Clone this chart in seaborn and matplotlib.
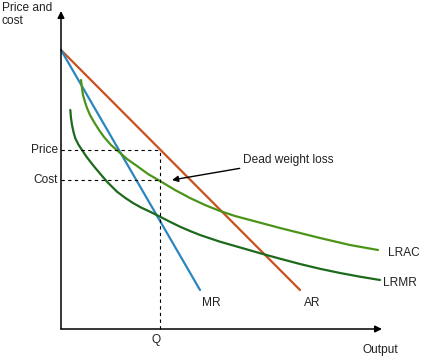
import matplotlib
matplotlib.use('Agg')
import matplotlib.pyplot as plt
import seaborn as sns
import pandas as pd

sns.set_style('white')
plt.rcParams['font.family'] = ['Liberation Sans', 'DejaVu Sans']

# 수요(AR)와 한계수입(MR) 직선
ar_q = [0, 239]
ar_p = [279, 39]
mr_q = [0, 139]
mr_p = [279, 39]

# 장기평균비용(LRAC) 곡선 - 그림에서 읽은 점
lrac_q = [20, 21, 22, 24, 26, 29, 33, 38, 43, 50, 58, 66, 76, 87, 99, 114, 129, 144,
          159, 174, 189, 204, 219, 239, 259, 289, 317]
lrac_p = [249, 241, 234, 227, 221, 214, 207, 199, 192, 184, 177, 170, 163, 155, 148, 139,
          131, 124, 118, 113, 109, 105, 101, 96, 91, 84, 79]

# 장기한계비용(LRMR) 곡선
lrmr_q = [9.3, 10, 11, 12.5, 14.3, 17.5, 21, 25, 29.3, 33.5, 37.7, 46, 56, 64, 72, 80,
          89, 99, 109, 119, 129, 139, 159, 182, 199, 219, 239, 259, 279, 299, 319]
lrmr_p = [219, 211, 204, 197, 190.7, 184.3, 179, 173, 167.3, 162, 157, 147.3, 137.3, 131.3,
          126, 121.5, 117.3, 112.3, 107.2, 102.3, 98, 94, 87.3, 80.7, 75.8, 70.3, 65,
          60.2, 56, 52.3, 49]

q_star = 99
price = 179
cost = 149

fig = plt.figure(figsize=(4.37, 3.61), dpi=100)
ax = fig.add_axes([0, 0, 1, 1])
ax.set_xlim(-61, 376)
ax.set_ylim(-32, 329)
ax.axis('off')

curves = [
    (ar_q, ar_p, '#c9501f'),
    (mr_q, mr_p, '#2b86bf'),
    (lrac_q, lrac_p, '#4c9419'),
    (lrmr_q, lrmr_p, '#1d6a1d'),
]
for qs, ps, col in curves:
    d = pd.DataFrame({'q': qs, 'p': ps})
    sns.lineplot(data=d, x='q', y='p', sort=False, color=col, lw=1.6, ax=ax)

# 점선 (가격, 비용, 수량)
ax.plot([0, q_star], [price, price], ls=(0, (3, 3)), color='black', lw=0.8)
ax.plot([0, q_star], [cost, cost], ls=(0, (3, 3)), color='black', lw=0.8)
ax.plot([q_star, q_star], [0, price], ls=(0, (3, 3)), color='black', lw=0.8)

# 축 화살표
ax.annotate('', xy=(0, 318), xytext=(0, 0),
            arrowprops=dict(arrowstyle='-|>', color='black', lw=1.1, mutation_scale=10,
                            shrinkA=0, shrinkB=0))
ax.annotate('', xy=(321, 0), xytext=(0, 0),
            arrowprops=dict(arrowstyle='-|>', color='black', lw=1.1, mutation_scale=10,
                            shrinkA=0, shrinkB=0))

fs = 8.6
ax.text(-59, 327, 'Price and\ncost', ha='left', va='top', fontsize=fs, color='#222222',
        linespacing=1.1)
ax.text(-3, price, 'Price', ha='right', va='center', fontsize=fs, color='#222222')
ax.text(-3, cost, 'Cost', ha='right', va='center', fontsize=fs, color='#222222')
ax.text(95, -11, 'Q', ha='center', va='center', fontsize=fs, color='#222222')
ax.text(319, -21, 'Output', ha='center', va='center', fontsize=fs, color='#222222')
ax.text(150, 26, 'MR', ha='center', va='center', fontsize=fs, color='#222222')
ax.text(251, 26, 'AR', ha='center', va='center', fontsize=fs, color='#222222')
ax.text(327, 76, 'LRAC', ha='left', va='center', fontsize=fs, color='#222222')
ax.text(322, 46, 'LRMR', ha='left', va='center', fontsize=fs, color='#222222')

# 자중손실 표시
ax.annotate('Dead weight loss', xy=(111, 149), xytext=(182, 169),
            ha='left', va='center', fontsize=fs, color='#222222',
            arrowprops=dict(arrowstyle='-|>', color='black', lw=1.0, mutation_scale=9,
                            shrinkA=0, shrinkB=0))

fig.savefig('out.png', dpi=100)
